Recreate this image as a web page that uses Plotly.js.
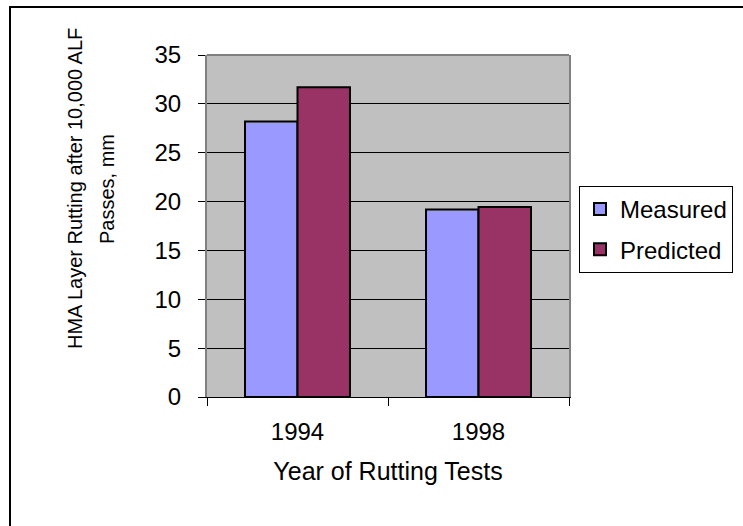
<!DOCTYPE html>
<html>
<head>
<meta charset="utf-8">
<script src="https://cdn.plot.ly/plotly-3.0.1.min.js"></script>
<style>
  html, body { margin: 0; padding: 0; background: #fff; }
  #chart { width: 743px; height: 526px; }
</style>
</head>
<body>
<div id="chart"></div>
<script>
const categories = ["1994", "1998"];
const measured = [28.2, 19.2];
const predicted = [31.7, 19.45];
const seriesNames = ["Measured", "Predicted"];
const yTicks = [0, 5, 10, 15, 20, 25, 30, 35];
const xTitle = "Year of Rutting Tests";
const yTitleLines = ["HMA Layer Rutting after 10,000 ALF", "Passes, mm"];

const FONT = "Arial, 'Liberation Sans', sans-serif";
const L = 207, R = 569, T = 55, B = 397, W = 743, H = 526;
const pw = R - L, ph = B - T;
const px = x => (x - L) / pw;
const py = y => (B - y) / ph;

const traces = [
  { type: "bar", name: seriesNames[0], x: categories, y: measured, legendgroup: "m",
    marker: { color: "#9999FF", line: { color: "#000", width: 2 } } },
  { type: "bar", name: seriesNames[1], x: categories, y: predicted, legendgroup: "p",
    marker: { color: "#993366", line: { color: "#000", width: 2 } } }
];

const layout = {
  width: W, height: H,
  margin: { l: L, r: W - R, t: T, b: H - B, pad: 0, autoexpand: false },
  paper_bgcolor: "#fff",
  plot_bgcolor: "#C0C0C0",
  font: { family: FONT, color: "#000", size: 22 },
  barmode: "group",
  bargap: 0.42,
  bargroupgap: 0,
  showlegend: true,
  legend: {
    x: px(579), y: py(186), xanchor: "left", yanchor: "top",
    bgcolor: "#fff", bordercolor: "#000", borderwidth: 1,
    font: { family: FONT, size: 24, color: "#000" },
    itemwidth: 30, traceorder: "grouped", tracegroupgap: 6
  },
  xaxis: {
    type: "category",
    range: [-0.5, 1.5],
    showline: true, linecolor: "#000", linewidth: 1,
    ticks: "outside", ticklen: 8, tickcolor: "#000", tickwidth: 1,
    tickson: "boundaries",
    showgrid: false, zeroline: false,
    tickfont: { family: FONT, size: 24 },
    ticklabelstandoff: 13,
    title: { text: xTitle, font: { family: FONT, size: 25 }, standoff: 18 }
  },
  yaxis: {
    range: [0, 35],
    tickvals: yTicks,
    showline: true, linecolor: "#808080", linewidth: 2, mirror: true,
    ticks: "outside", ticklen: 7, tickcolor: "#000", tickwidth: 1,
    showgrid: true, gridcolor: "#000", gridwidth: 1,
    zeroline: false,
    tickfont: { family: FONT, size: 24 },
    ticklabelstandoff: 12
  },
  annotations: [
    { text: yTitleLines[0], xref: "paper", yref: "paper", x: px(75), y: py(189),
      textangle: -90, showarrow: false, font: { family: FONT, size: 20 },
      xanchor: "center", yanchor: "middle" },
    { text: yTitleLines[1], xref: "paper", yref: "paper", x: px(107), y: py(189),
      textangle: -90, showarrow: false, font: { family: FONT, size: 20 },
      xanchor: "center", yanchor: "middle" }
  ],
  shapes: [
    { type: "line", xref: "paper", yref: "paper", x0: 0, x1: 1, y0: 1, y1: 1,
      line: { color: "#808080", width: 2 } },
    { type: "rect", xref: "paper", yref: "paper",
      x0: px(10), x1: px(760), y0: py(540), y1: py(7),
      line: { color: "#000", width: 2 }, fillcolor: "rgba(0,0,0,0)", layer: "below" }
  ]
};

Plotly.newPlot("chart", traces, layout, { displayModeBar: false, staticPlot: true });
</script>
</body>
</html>
